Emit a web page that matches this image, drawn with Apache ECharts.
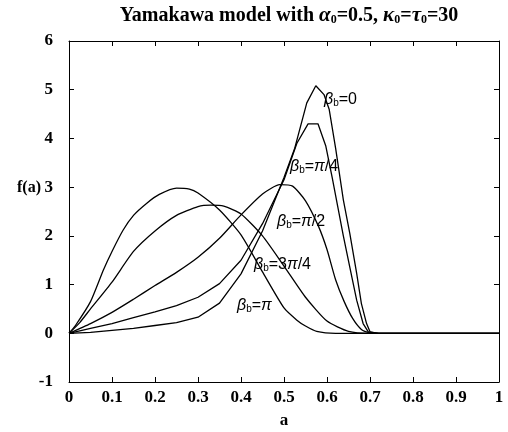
<!DOCTYPE html>
<html>
<head>
<meta charset="utf-8">
<script src="https://cdn.jsdelivr.net/npm/echarts@6/dist/echarts.min.js"></script>
<style>
  html, body { margin: 0; padding: 0; background: #fff; }
  #main { width: 508px; height: 432px; }
</style>
</head>
<body>
<div id="main"></div>
<script>
// 曲线数据 [a, f(a)]
const betaZero = [[0,0],[0.05,0.02],[0.1,0.06],[0.15,0.1],[0.2,0.16],[0.25,0.22],[0.3,0.33],[0.35,0.62],[0.4,1.22],[0.45,2.1],[0.5,3.2],[0.525,3.8],[0.553,4.73],[0.574,5.08],[0.593,4.9],[0.605,4.6],[0.62,3.8],[0.638,2.74],[0.653,2.05],[0.669,1.23],[0.68,0.61],[0.692,0.2],[0.7,0.03],[0.72,0],[1,0]]
const betaQuarter = [[0,0],[0.05,0.1],[0.1,0.2],[0.15,0.32],[0.2,0.44],[0.25,0.57],[0.3,0.74],[0.35,1.02],[0.4,1.5],[0.45,2.25],[0.5,3.15],[0.53,3.9],[0.556,4.3],[0.579,4.3],[0.597,3.85],[0.612,3.2],[0.625,2.6],[0.638,2.0],[0.653,1.36],[0.669,0.68],[0.684,0.2],[0.696,0.03],[0.72,0],[1,0]]
const betaHalf = [[0,0],[0.05,0.2],[0.1,0.43],[0.15,0.7],[0.2,0.98],[0.25,1.25],[0.3,1.56],[0.35,1.95],[0.4,2.43],[0.45,2.86],[0.49,3.05],[0.52,3.02],[0.55,2.72],[0.58,2.2],[0.6,1.72],[0.62,1.1],[0.64,0.65],[0.66,0.3],[0.68,0.08],[0.7,0.01],[0.72,0],[1,0]]
const betaThreeQ = [[0,0],[0.025,0.22],[0.05,0.5],[0.1,1.05],[0.15,1.68],[0.2,2.1],[0.25,2.42],[0.3,2.6],[0.33,2.63],[0.36,2.61],[0.4,2.45],[0.45,2.0],[0.5,1.38],[0.55,0.74],[0.6,0.25],[0.65,0.04],[0.7,0],[1,0]]
const betaPi = [[0,0],[0.015,0.16],[0.05,0.65],[0.08,1.3],[0.1,1.68],[0.126,2.12],[0.15,2.42],[0.181,2.67],[0.21,2.85],[0.25,2.98],[0.28,2.96],[0.3,2.88],[0.35,2.53],[0.4,2.02],[0.45,1.26],[0.5,0.52],[0.53,0.27],[0.55,0.15],[0.576,0.04],[0.62,0],[1,0]]

const curves = [betaZero, betaQuarter, betaHalf, betaThreeQ, betaPi]
// 宽峰曲线做轻微平滑，尖峰曲线保持折线
const smoothness = [false, false, 0.2, 0.2, 0.2]
const curveLabels = [
  '{g|β}{s|b}=0',
  '{g|β}{s|b}={g|π}/4',
  '{g|β}{s|b}={g|π}/2',
  '{g|β}{s|b}=3{g|π}/4',
  '{g|β}{s|b}={g|π}'
]
const xTicks = ['0','0.1','0.2','0.3','0.4','0.5','0.6','0.7','0.8','0.9','1']

const serif = '"Liberation Serif", "DejaVu Serif", serif'
const sans = '"Liberation Sans", Arial, sans-serif'

const labelRich = {
  g: { fontFamily: sans, fontStyle: 'italic', fontSize: 16, color: '#000' },
  s: { fontFamily: sans, fontSize: 10, color: '#000', verticalAlign: 'bottom', padding: [6, 0, 0, 0] }
}
// 标签位置（像素）
const labelPos = [[324, 100], [290, 167], [277, 222], [254, 265], [237, 306]]

const myChart = echarts.init(document.getElementById('main'))

const option = {
  backgroundColor: '#fff',
  animation: false,
  title: {
    text: 'Yamakawa model with {g|α}{s|0}=0.5, {g|κ}{s|0}={g|τ}{s|0}=30',
    left: 284,
    textAlign: 'center',
    top: 0,
    textStyle: {
      fontFamily: serif,
      fontSize: 20,
      fontWeight: 'bold',
      color: '#000',
      rich: {
        g: { fontFamily: serif, fontStyle: 'italic', fontSize: 21, color: '#000' },
        s: { fontFamily: serif, fontSize: 12, fontWeight: 'bold', color: '#000', verticalAlign: 'bottom', padding: [7, 0, 0, 0] }
      }
    }
  },
  grid: { left: 69, right: 9, top: 41, bottom: 50, outerBoundsMode: 'none', containLabel: false },
  xAxis: [{
    type: 'value',
    min: 0,
    max: 1,
    interval: 0.1,
    name: 'a',
    nameLocation: 'middle',
    nameGap: 30,
    nameTextStyle: { fontFamily: serif, fontSize: 17, fontWeight: 'bold', color: '#000' },
    axisLine: { show: true, onZero: false, lineStyle: { color: '#000', width: 1 } },
    axisTick: { show: true, inside: true, length: 5, lineStyle: { color: '#000' } },
    axisLabel: {
      margin: 7,
      fontFamily: serif,
      fontSize: 17,
      fontWeight: 'bold',
      color: '#000',
      formatter: (v) => xTicks[Math.round(v * 10)]
    },
    splitLine: { show: false }
  }, {
    type: 'value',
    position: 'top',
    min: 0,
    max: 1,
    interval: 0.1,
    axisLine: { show: true, onZero: false, lineStyle: { color: '#000', width: 1 } },
    axisTick: { show: true, inside: true, length: 5, lineStyle: { color: '#000' } },
    axisLabel: { show: false },
    splitLine: { show: false }
  }],
  yAxis: [{
    type: 'value',
    min: -1,
    max: 6,
    interval: 1,
    axisLine: { show: true, onZero: false, lineStyle: { color: '#000', width: 1 } },
    axisTick: { show: true, inside: true, length: 5, lineStyle: { color: '#000' } },
    axisLabel: { margin: 16, fontFamily: serif, fontSize: 17, fontWeight: 'bold', color: '#000' },
    splitLine: { show: false }
  }, {
    type: 'value',
    position: 'right',
    min: -1,
    max: 6,
    interval: 1,
    axisLine: { show: true, onZero: false, lineStyle: { color: '#000', width: 1 } },
    axisTick: { show: true, inside: true, length: 5, lineStyle: { color: '#000' } },
    axisLabel: { show: false },
    splitLine: { show: false }
  }],
  series: curves.map((d, i) => ({
    type: 'line',
    data: d,
    showSymbol: false,
    smooth: smoothness[i],
    lineStyle: { color: '#000', width: 1.3 }
  })),
  graphic: [
    {
      type: 'text',
      left: 17,
      top: 180,
      style: { text: 'f(a)', font: 'bold 16px ' + serif, fill: '#000' }
    }
  ].concat(curveLabels.map((t, i) => ({
    type: 'text',
    x: labelPos[i][0],
    y: labelPos[i][1],
    style: {
      text: t,
      font: '16px ' + sans,
      fill: '#000',
      verticalAlign: 'middle',
      rich: labelRich
    }
  })))
}

myChart.setOption(option)
window.onresize = () => myChart.resize()
</script>
</body>
</html>
